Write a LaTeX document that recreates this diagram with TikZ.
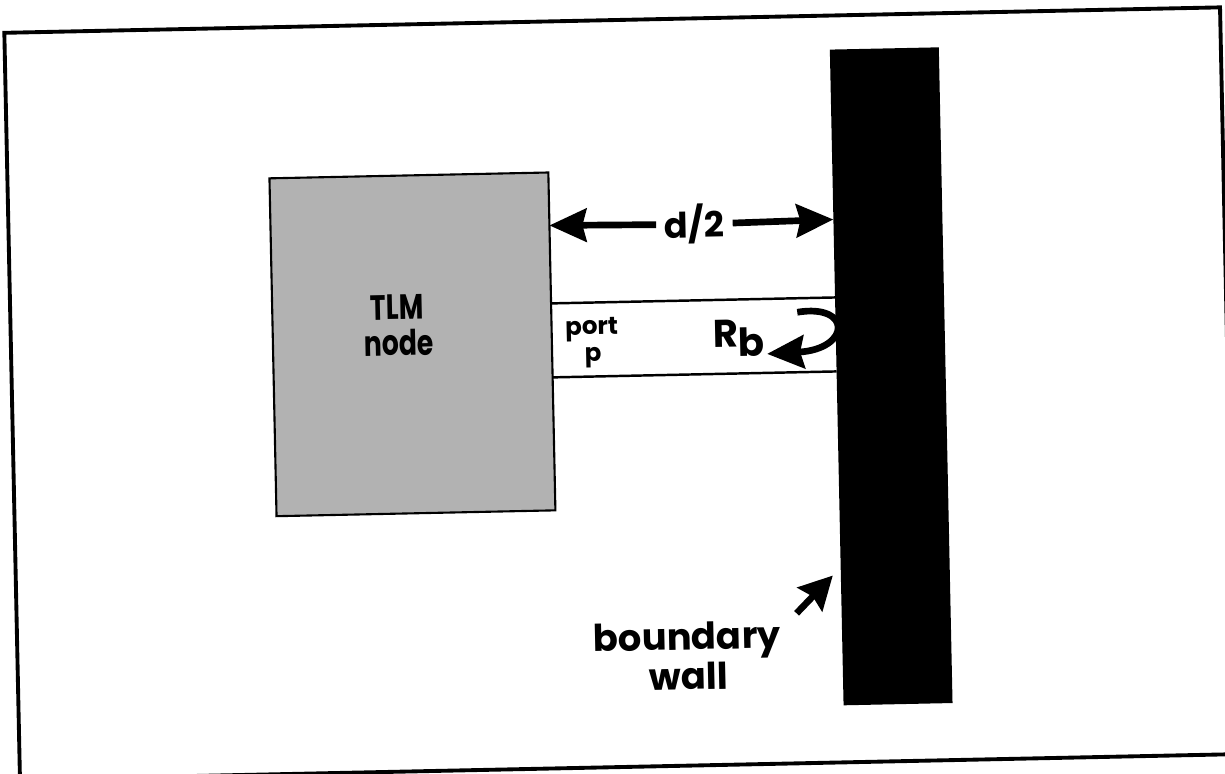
\documentclass[tikz,border=0pt]{standalone}
\usepackage{fontspec}
\setmainfont{Poppins}
\usepackage{xcolor}
\usetikzlibrary{arrows.meta}

\tikzset{
  lbl/.style={font=\bfseries, inner sep=0pt, anchor=base},
  tlmbox/.style={draw, line width=1.2pt, fill=black!30, minimum width=5.58cm, minimum height=6.76cm, inner sep=0pt},
  wallbox/.style={fill=black, minimum width=2.18cm, minimum height=13.12cm, inner sep=0pt},
  portline/.style={line width=1.4pt},
  fatarrow/.style={line width=3.8pt, -{Stealth[length=0.74cm, width=0.66cm, inset=0.08cm]}},
}

\begin{document}
\begin{tikzpicture}[x=0.02cm, y=-0.02cm]
  \useasboundingbox (0,0) rectangle (1225,774);
  % the scan is turned a little
  \begin{scope}[rotate around={1.2:(620,393.5)}, transform shape]
    \draw[line width=2.2pt] (12,20) rectangle (1228,767);

    \node[tlmbox] (tlm) at (413.5,340) {};
    \node[wallbox] (wall) at (891.5,382) {};

    \node[lbl, font=\bfseries\fontsize{20}{20}\selectfont] (tlmtop) at (399,315) {\scalebox{0.76}[1]{TLM}};
    \node[lbl, font=\bfseries\fontsize{20}{20}\selectfont] (tlmbot) at (400,351) {\scalebox{0.76}[1]{node}};

    % port p
    \coordinate (pt1) at (553,302);
    \coordinate (pt2) at (837,302);
    \coordinate (pb1) at (553,376);
    \coordinate (pb2) at (837,376);
    \draw[portline] (pt1) -- (pt2);
    \draw[portline] (pb1) -- (pb2);
    \node[lbl, font=\bfseries\fontsize{14}{14}\selectfont] (port) at (593,334) {port};
    \node[lbl, font=\bfseries\fontsize{14}{14}\selectfont] (portp) at (594,361) {p};

    % d/2
    \coordinate (dl) at (553,224);
    \coordinate (dr) at (837,224);
    \node[lbl, anchor=center, inner sep=0.16cm, font=\bfseries\fontsize{20}{20}\selectfont] (dhalf) at (698,226) {d/2};
    \draw[fatarrow] (dhalf) -- (dl);
    \draw[fatarrow] (dhalf) -- (dr);

    % reflection
    \node[lbl, font=\bfseries\fontsize{22}{22}\selectfont] (rb) at (740,349) {R\raisebox{-0.2cm}{b}};
    \coordinate (rbs) at (799,316);
    \coordinate (rbt) at (768,357);
    \draw[fatarrow] (rbs) .. controls (854,308) and (852,354) .. (rbt);

    % wall label
    \node[lbl, font=\bfseries\fontsize{21}{21}\selectfont] (bnd) at (682,651) {boundary};
    \node[lbl, font=\bfseries\fontsize{21}{21}\selectfont] (wl) at (683,691) {wall};
    \coordinate (wat) at (792,617);
    \coordinate (wah) at (829,580);
    \draw[fatarrow, -{Stealth[length=0.66cm, width=0.68cm, inset=0.08cm]}] (wat) -- (wah);
  \end{scope}
\end{tikzpicture}
\end{document}
